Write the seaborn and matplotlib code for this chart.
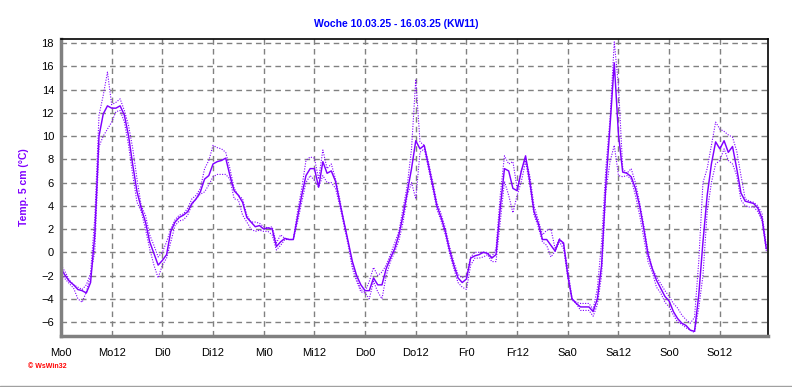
import numpy as np
import pandas as pd
import matplotlib
matplotlib.use("Agg")
import matplotlib.pyplot as plt
from matplotlib.lines import Line2D
from matplotlib.ticker import MultipleLocator
import seaborn as sns

# hourly soil temperature at 5 cm, Mo 0:00 .. So 23:00
hours = list(range(168))

temp_mean = [
    -1.4, -2.0, -2.5, -2.8, -3.2, -3.3, -3.5, -2.6, 1.5, 10.0, 11.9, 12.6, 12.4, 12.4, 12.6, 11.8,
    10.0, 7.5, 5.2, 3.8, 2.6, 0.9, -0.1, -1.1, -0.7, -0.2, 1.8, 2.6, 3.0,
    3.2, 3.5, 4.2, 4.6, 5.2, 6.3, 6.6, 7.6, 7.8, 7.9, 8.1, 6.6, 5.3, 4.9, 4.3, 3.0, 2.6, 2.2,
    2.3, 2.0, 2.1, 2.0, 0.5, 0.9, 1.2, 1.1, 1.1, 3.0,
    4.9, 6.6, 7.2, 7.2, 5.6, 7.8, 6.8, 7.0, 6.1, 4.3, 2.6, 0.9, -0.8, -2.0, -2.8, -3.3, -3.3,
    -2.2, -2.8, -2.8, -1.4, -0.5, 0.3, 1.5, 3.2, 5.2, 7.2, 9.6,
    8.9, 9.2, 7.5, 5.8, 4.0, 3.0, 1.8, 0.2, -1.1, -2.2, -2.6, -2.3, -0.5, -0.3, -0.2, 0.0, -0.1,
    -0.5, -0.2, 3.8, 7.2, 7.0, 5.5, 5.3, 7.0, 8.3, 6.1, 3.5,
    2.5, 1.1, 1.1, 0.6, 0.1, 1.1, 0.8, -2.0, -4.0, -4.4, -4.7, -4.7, -4.7, -5.1, -4.0, -1.1,
    5.8, 10.9, 16.3, 10.1, 6.9, 6.8, 6.5, 5.5, 4.0, 2.0, -0.2, -1.4,
    -2.4, -3.1, -3.8, -4.2, -5.1, -5.7, -6.1, -6.3, -6.7, -6.8, -3.7, 0.9, 4.9, 7.6, 9.5, 8.9,
    9.6, 8.6, 9.1, 7.2, 5.1, 4.4, 4.3, 4.2, 3.8, 2.9, 0.3,
]

temp_max = [
    -1.1, -1.7, -2.4, -2.8, -3.0, -3.2, -2.8, -1.8, 3.0, 11.8, 13.5, 15.5, 12.7, 12.9, 13.2, 12.2,
    10.9, 8.9, 6.3, 4.0, 3.2, 1.5, 0.6, -0.4, 0.0, 0.9, 2.0, 2.8, 3.2,
    3.3, 3.8, 4.6, 4.9, 5.5, 7.2, 7.9, 9.2, 9.0, 8.9, 8.6, 7.2, 5.5, 4.9, 4.6, 3.2, 2.6, 2.6,
    2.5, 2.2, 2.1, 2.2, 0.8, 1.5, 1.2, 1.1, 1.1, 3.5,
    5.5, 7.9, 8.2, 8.1, 6.3, 8.8, 7.2, 7.6, 6.3, 4.6, 2.6, 0.9, -1.1, -2.2, -3.2, -3.4, -2.5,
    -1.3, -2.0, -1.7, -1.1, -0.2, 0.8, 1.8, 3.8, 5.8, 8.9, 14.9,
    9.5, 9.2, 7.8, 6.1, 4.3, 3.3, 2.1, 0.5, -0.8, -1.9, -2.2, -2.0, -0.4, 0.0, 0.0, 0.0, 0.0,
    -0.4, 0.3, 4.9, 8.3, 7.6, 7.8, 5.5, 7.0, 8.1, 6.6, 4.0,
    2.8, 1.5, 1.9, 2.0, 0.3, 1.2, 0.6, -1.4, -4.0, -4.3, -4.4, -4.4, -4.4, -4.9, -3.1, 0.9,
    7.2, 11.5, 18.1, 14.3, 7.2, 6.8, 7.2, 6.0, 4.3, 2.3, 0.1, -1.4,
    -2.1, -2.7, -3.3, -3.8, -4.4, -4.8, -5.4, -5.8, -6.1, -5.6, -0.8, 6.0, 7.2, 9.2, 11.2, 10.6,
    10.4, 10.1, 9.9, 8.7, 6.6, 4.6, 4.4, 4.3, 4.0, 3.3, 0.6,
]

temp_min = [
    -1.7, -2.3, -2.7, -3.1, -4.0, -4.3, -3.4, -2.0, 0.1, 9.1, 10.0, 10.6, 11.2, 12.1, 12.2, 11.2,
    9.2, 6.6, 4.3, 3.5, 2.0, 0.3, -1.1, -2.2, -1.1, -0.5, 0.9, 2.3, 2.7,
    2.8, 3.2, 4.1, 4.6, 5.0, 5.2, 5.8, 6.5, 6.7, 6.7, 6.7, 6.3, 4.6, 4.5, 3.2, 2.6, 2.0, 1.8,
    1.9, 1.8, 1.8, 1.5, 0.2, 0.6, 1.1, 1.1, 1.1, 2.6,
    4.3, 6.0, 6.6, 6.2, 5.6, 6.6, 6.0, 6.0, 5.5, 4.0, 2.3, 0.6, -1.4, -2.5, -3.4, -3.5, -4.0,
    -2.5, -3.4, -4.0, -2.0, -0.8, 0.0, 1.0, 2.6, 4.9, 6.0, 4.6,
    8.6, 8.9, 7.2, 5.5, 3.7, 2.7, 1.5, -0.1, -1.4, -2.6, -3.0, -3.2, -1.1, -0.5, -0.5, -0.4, -0.2,
    -0.8, -0.8, 2.6, 6.1, 4.9, 3.4, 4.9, 6.1, 7.8, 5.8, 3.2,
    2.2, 0.9, 0.6, -0.4, 0.1, 0.9, 0.3, -2.2, -4.1, -4.4, -5.0, -5.0, -5.0, -5.5, -4.5, -2.0,
    5.2, 7.8, 9.2, 6.6, 6.5, 6.6, 6.3, 4.9, 3.2, 1.2, -0.8, -1.7,
    -3.0, -3.5, -4.3, -4.7, -5.4, -6.0, -6.2, -6.5, -6.7, -6.9, -4.8, -2.0, 3.5, 6.0, 7.6, 7.9,
    8.9, 7.9, 7.6, 6.6, 4.5, 4.0, 3.9, 3.9, 3.5, 2.7, 0.1,
]

tick_labels = ["Mo0", "Mo12", "Di0", "Di12", "Mi0", "Mi12", "Do0", "Do12",
               "Fr0", "Fr12", "Sa0", "Sa12", "So0", "So12"]

df = pd.DataFrame({"hour": hours, "mean": temp_mean, "max": temp_max, "min": temp_min})

sns.set_style("white")
plt.rcParams["font.family"] = ["Liberation Sans", "DejaVu Sans"]

purple = "#8000FF"
grey = "#808080"

fig, ax = plt.subplots(figsize=(7.92, 3.87), dpi=100)
fig.subplots_adjust(left=61 / 792, right=768 / 792, top=1 - 39 / 387, bottom=1 - 336 / 387)

# max / min dotted, mean solid
sns.lineplot(data=df, x="hour", y="max", ax=ax, color=purple, linewidth=0.8,
             linestyle=(0, (1, 1.3)))
sns.lineplot(data=df, x="hour", y="min", ax=ax, color=purple, linewidth=0.8,
             linestyle=(0, (1, 1.3)))
sns.lineplot(data=df, x="hour", y="mean", ax=ax, color=purple, linewidth=1.05)

ax.set_xlim(0, 167.4)
ax.set_ylim(-7.2, 18.35)

ax.set_xticks(range(0, 168, 12))
ax.set_xticklabels(tick_labels)
ax.xaxis.set_minor_locator(MultipleLocator(3))
ax.set_yticks(range(-6, 19, 2))
ax.yaxis.set_minor_locator(MultipleLocator(0.5))

ax.grid(True, which="major", color=grey, linestyle=(0, (4, 3)), linewidth=1.0)
ax.set_axisbelow(True)

ax.tick_params(axis="both", which="major", direction="out", length=3, width=1,
               color=grey, labelsize=8, labelcolor="black")
ax.tick_params(axis="y", which="major", pad=2)
ax.tick_params(axis="x", which="major", pad=6)
ax.tick_params(axis="both", which="minor", direction="out", length=2, width=1, color=grey)

for side in ["left", "bottom"]:
    ax.spines[side].set_color(grey)
    ax.spines[side].set_linewidth(2.5)
for side in ["top", "right"]:
    ax.spines[side].set_color("black")
    ax.spines[side].set_linewidth(1.2)

ax.set_xlabel("")
ax.set_ylabel("Temp. 5 cm (°C)", color=purple, fontsize=7.5, fontweight="bold", labelpad=9)

fig.text(0.5, 1 - 24 / 387, "Woche 10.03.25 - 16.03.25 (KW11)", ha="center", va="center",
         color="#0000FF", fontsize=7.5, fontweight="bold")
fig.text(28 / 792, 1 - 367 / 387, "© WsWin32", ha="left", va="center",
         color="#FF0000", fontsize=5, fontweight="bold")
fig.add_artist(Line2D([0, 1], [0.002, 0.002], color="#A0A0A0", linewidth=1,
                      transform=fig.transFigure))

fig.savefig("out.png", dpi=100)
